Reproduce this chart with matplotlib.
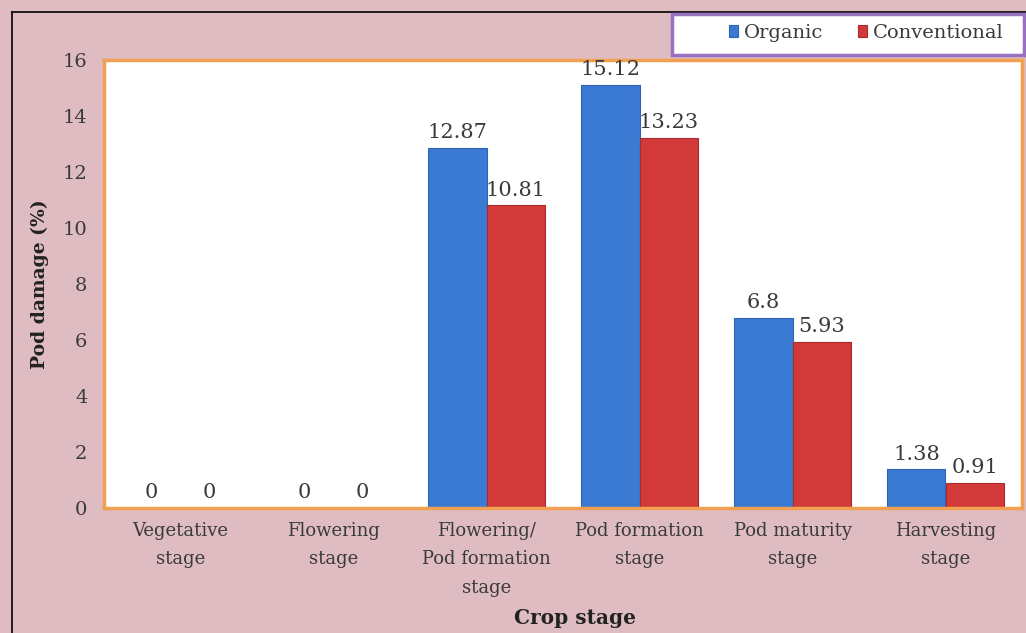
import matplotlib.pyplot as plt
import matplotlib.patches as mpatches
from matplotlib.lines import Line2D
import numpy as np

stages = ['Vegetative\nstage', 'Flowering\nstage', 'Flowering/\nPod formation\nstage',
          'Pod formation\nstage', 'Pod maturity\nstage', 'Harvesting\nstage']
organic = [0, 0, 12.87, 15.12, 6.8, 1.38]
conventional = [0, 0, 10.81, 13.23, 5.93, 0.91]
organic_lbl = ['0', '0', '12.87', '15.12', '6.8', '1.38']
conventional_lbl = ['0', '0', '10.81', '13.23', '5.93', '0.91']

plt.rcParams['font.family'] = ['DejaVu Serif']
txt = '#3a3a3a'

fig = plt.figure(figsize=(10.26, 6.33), dpi=100)
fig.patch.set_facecolor('#dfbcc2')

ax = fig.add_axes([104 / 1026, 1 - 508 / 633, 918 / 1026, 448 / 633])
ax.set_facecolor('white')

x = np.arange(len(stages))
w = 0.38
b1 = ax.bar(x - w / 2, organic, w, color='#3b7ad3', edgecolor='#2f63b0', linewidth=0.8, label='Organic')
b2 = ax.bar(x + w / 2, conventional, w, color='#d23a3a', edgecolor='#a82a2a', linewidth=0.8, label='Conventional')

for xi, v, s in zip(x - w / 2, organic, organic_lbl):
    ax.text(xi, v + 0.2, s, ha='center', va='bottom', fontsize=15, color=txt)
for xi, v, s in zip(x + w / 2, conventional, conventional_lbl):
    ax.text(xi, v + 0.2, s, ha='center', va='bottom', fontsize=15, color=txt)

ax.set_xlim(-0.5, len(stages) - 0.5)
ax.set_ylim(0, 16)
ax.set_yticks(range(0, 17, 2))
ax.tick_params(axis='y', length=0, labelsize=14, labelcolor=txt, pad=12)
ax.set_xticks(x)
ax.set_xticklabels(stages, fontsize=13, color=txt, linespacing=1.75)
ax.tick_params(axis='x', length=0, pad=10)
for sp in ax.spines.values():
    sp.set_color('#f0a050')
    sp.set_linewidth(2.5)

ax.set_ylabel('Pod damage (%)', fontsize=13.5, fontweight='bold', color='#222222', labelpad=10)
fig.text(575 / 1026, 1 - 618 / 633, 'Crop stage', ha='center', va='center',
         fontsize=14.5, fontweight='bold', color='#222222')

# legend box
leg_box = mpatches.FancyBboxPatch((672 / 1026, 1 - 55 / 633), 352 / 1026, 41 / 633,
                                  boxstyle='square,pad=0', transform=fig.transFigure,
                                  facecolor='white', edgecolor='#9a70c0', linewidth=2.5, zorder=5)
fig.add_artist(leg_box)
fig.legend(handles=[b1, b2], loc='center', bbox_to_anchor=(866 / 1026, 1 - 33 / 633),
           ncol=2, frameon=False, fontsize=14, handlelength=0.45, handleheight=0.55,
           handletextpad=0.3, columnspacing=1.8, labelcolor=txt)

# outer frame lines
fig.add_artist(Line2D([12 / 1026, 12 / 1026], [0, 1 - 12 / 633], transform=fig.transFigure,
                      color='black', linewidth=1.2))
fig.add_artist(Line2D([12 / 1026, 1], [1 - 12 / 633, 1 - 12 / 633], transform=fig.transFigure,
                      color='black', linewidth=1.2))

fig.savefig('out.png', dpi=100, facecolor=fig.get_facecolor())
